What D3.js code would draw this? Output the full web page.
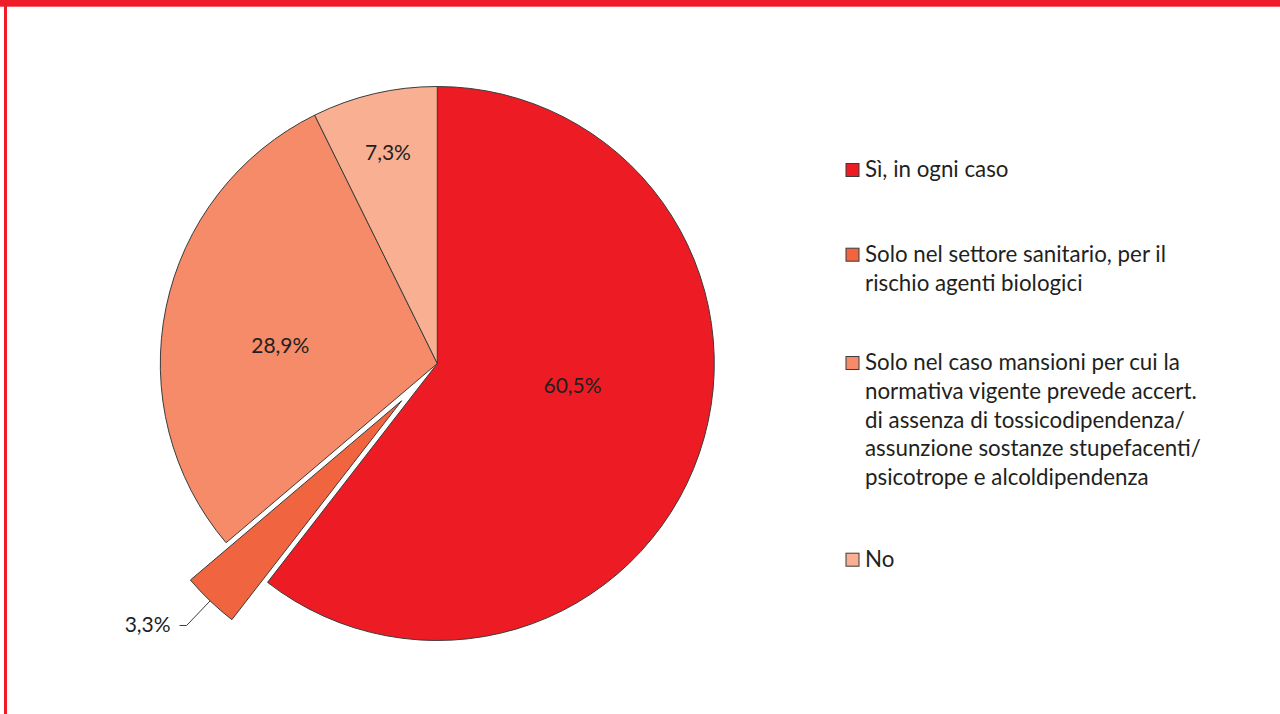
<!DOCTYPE html>
<html>
<head>
<meta charset="utf-8">
<script src="https://cdn.jsdelivr.net/npm/d3@7/dist/d3.min.js"></script>
<style>
  html, body { margin: 0; padding: 0; background: #fff; }
  svg { display: block; }
  text { font-family: Lato, "Noto Sans", sans-serif; fill: #231F20; }
</style>
</head>
<body>
<svg id="chart" width="1280" height="714"></svg>
<script>
// ---- data ----
const categories = [
  "Sì, in ogni caso",
  "Solo nel settore sanitario, per il rischio agenti biologici",
  "Solo nel caso mansioni per cui la normativa vigente prevede accert. di assenza di tossicodipendenza/ assunzione sostanze stupefacenti/ psicotrope e alcoldipendenza",
  "No"
];
const legendLines = [
  ["Sì, in ogni caso"],
  ["Solo nel settore sanitario, per il", "rischio agenti biologici"],
  ["Solo nel caso mansioni per cui la", "normativa vigente prevede accert.", "di assenza di tossicodipendenza/", "assunzione sostanze stupefacenti/", "psicotrope e alcoldipendenza"],
  ["No"]
];
const values = [60.5, 3.3, 28.9, 7.3];
const valueLabels = ["60,5%", "3,3%", "28,9%", "7,3%"];
const colors = ["#ED1C24", "#F06440", "#F58B68", "#F9AF91"];
const exploded = [false, true, false, false];

// ---- layout ----
const W = 1280, H = 714;
const cx = 437.3, cy = 363.5, R = 277;
const explodeDist = 51.6;
// label placement: [radius, angle shift (deg)] per slice, inside labels
const labelPlace = [[137, -9.7], null, [158, -5.3], [217, 0]];
const digitHalf = 7.5; // half digit height, to centre labels on their anchor

const svg = d3.select("#chart");

// frame
svg.append("rect").attr("x", 0).attr("y", 0).attr("width", W).attr("height", 6.7).attr("fill", "#EE1D27");
svg.append("rect").attr("x", 4).attr("y", 0).attr("width", 3).attr("height", H).attr("fill", "#EE1D27");

const pie = d3.pie().sort(null).value(d => d)(values);
const arc = d3.arc().innerRadius(0).outerRadius(R);

const g = svg.append("g").attr("transform", `translate(${cx},${cy})`);

function dir(a) { return [Math.sin(a), -Math.cos(a)]; }

pie.forEach((p, i) => {
  const mid = (p.startAngle + p.endAngle) / 2;
  const [dx, dy] = dir(mid);
  const off = exploded[i] ? explodeDist : 0;
  g.append("path")
    .attr("d", arc(p))
    .attr("transform", `translate(${dx * off},${dy * off})`)
    .attr("fill", colors[i])
    .attr("stroke", "#3b3b3b")
    .attr("stroke-width", 1)
    .attr("stroke-linejoin", "miter");
});

// labels
const labelFont = 21;
pie.forEach((p, i) => {
  const mid = (p.startAngle + p.endAngle) / 2;
  if (labelPlace[i]) {
    const [r, shift] = labelPlace[i];
    const a = mid + shift * Math.PI / 180;
    const [dx, dy] = dir(a);
    g.append("text")
      .attr("x", dx * r).attr("y", dy * r + digitHalf)
      .attr("text-anchor", "middle")
      .attr("font-size", labelFont)
      .text(valueLabels[i]);
  } else {
    // outside label with leader line
    const [dx, dy] = dir(mid);
    const off = exploded[i] ? explodeDist : 0;
    const p0 = [dx * (R + off), dy * (R + off)];
    const p1 = [dx * (R + off + 34), dy * (R + off + 34)];
    const p2 = [p1[0] - 7, p1[1]];
    g.append("path")
      .attr("d", d3.line()([p0, p1, p2]))
      .attr("fill", "none")
      .attr("stroke", "#3b3b3b")
      .attr("stroke-width", 1);
    g.append("text")
      .attr("x", p2[0] - 9).attr("y", p2[1] + digitHalf - 1)
      .attr("text-anchor", "end")
      .attr("font-size", labelFont)
      .text(valueLabels[i]);
  }
});

// legend
const legendX = 846, textX = 865, box = 14, lineH = 28.8;
const firstBaselines = [177, 261.7, 370, 566.7];
const lg = svg.append("g");
legendLines.forEach((lines, i) => {
  const b = firstBaselines[i];
  lg.append("rect")
    .attr("x", legendX).attr("y", b - 13.5)
    .attr("width", box - 1).attr("height", box - 1)
    .attr("fill", colors[i])
    .attr("stroke", "#3b3b3b").attr("stroke-width", 1);
  const t = lg.append("text").attr("font-size", 20);
  lines.forEach((ln, j) => {
    t.append("tspan").attr("x", textX).attr("y", b + j * lineH).text(ln);
  });
});
// fit legend font to the reference width of the widest line
const target = 301;
const probe = lg.append("text").attr("font-size", 20).text(legendLines[1][0]);
const w20 = probe.node().getComputedTextLength();
probe.remove();
const fs = 20 * target / w20;
lg.selectAll("text").attr("font-size", fs);
</script>
</body>
</html>
